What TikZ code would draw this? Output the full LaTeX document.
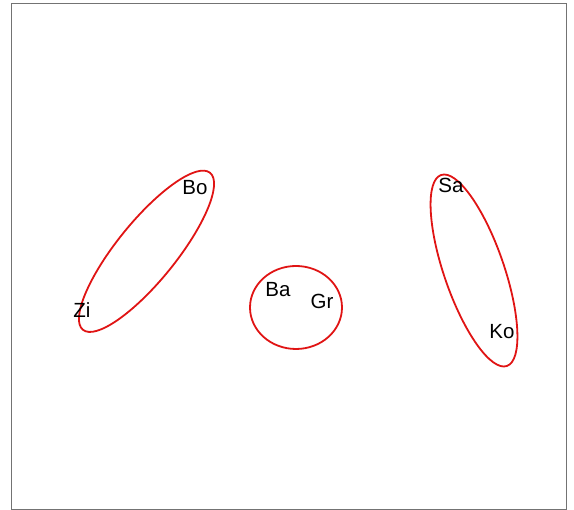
\documentclass[tikz,border=0pt]{standalone}
\usepackage{fontspec}
\setmainfont{Liberation Sans}
\usepackage{tikz}
\definecolor{ringred}{HTML}{E01414}
\definecolor{framegray}{gray}{0.45}
\tikzset{
  frameline/.style = {draw=framegray, line width=1.2pt},
  clusterring/.style = {draw=ringred, line width=1.8pt},
  sitelabel/.style = {font=\fontsize{20.5}{23}\selectfont, text=black,
                      inner sep=0pt},
}

\begin{document}
\begin{tikzpicture}[x=1pt, y=1pt]
  \useasboundingbox (0,0) rectangle (574,510);
  \draw[frameline] (11.5,0.5) rectangle (566.5,506.5);
  % clusters
  \draw[clusterring, rotate around={51:(146.5,258.7)}] (146.5,258.7) ellipse (101 and 29.5);
  \draw[clusterring] (296,202.5) ellipse (46 and 41.5);
  \draw[clusterring, rotate around={-71:(474,239.5)}] (474,239.5) ellipse (101 and 30);
  % sites
  \node[sitelabel] (bo) at (195,322) {Bo};
  \node[sitelabel] (zi) at (82,200) {Zi};
  \node[sitelabel] (ba) at (278,220) {Ba};
  \node[sitelabel] (gr) at (322,209) {Gr};
  \node[sitelabel] (sa) at (451,325) {Sa};
  \node[sitelabel] (ko) at (502,178) {Ko};
\end{tikzpicture}
\end{document}
